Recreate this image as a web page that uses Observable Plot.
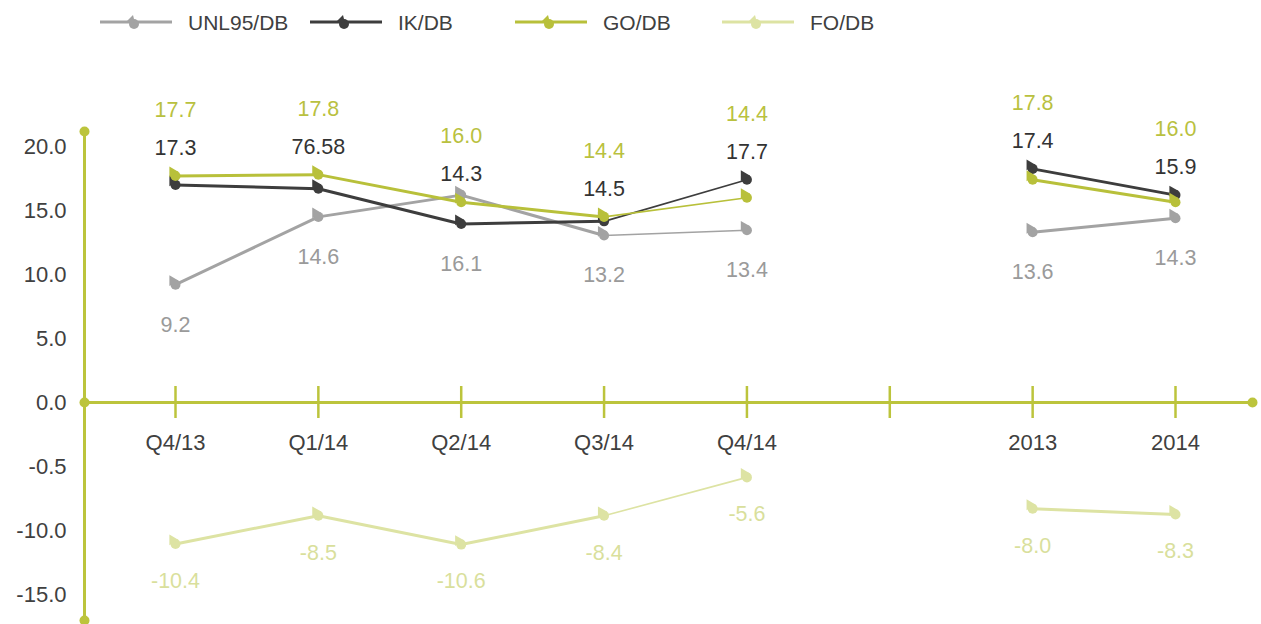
<!DOCTYPE html>
<html>
<head>
<meta charset="utf-8">
<script src="https://cdn.jsdelivr.net/npm/d3@7"></script>
<script src="https://cdn.jsdelivr.net/npm/@observablehq/plot@0.6"></script>
<style>
  html, body { margin: 0; padding: 0; background: #fff; }
  body { width: 1261px; height: 624px; overflow: hidden; font-family: "Liberation Sans", Arial, sans-serif; }
  #legend { position: relative; height: 48px; width: 1261px; }
  .item { position: absolute; top: 0; height: 46px; display: flex; align-items: center; }
  .item span { font-size: 21px; color: #404040; margin-left: 16px; }
  #chart svg { display: block; }
</style>
</head>
<body>
<div id="legend"></div>
<div id="chart"></div>
<script>
// ---- data ----
const categories = ["Q4/13", "Q1/14", "Q2/14", "Q3/14", "Q4/14", "", "2013", "2014"];
const seriesNames = ["UNL95/DB", "IK/DB", "GO/DB", "FO/DB"];
const unl95 = [9.2, 14.5, 16.2, 13.05, 13.45, null, 13.3, 14.4];
const ik    = [17.0, 16.7, 13.95, 14.15, 17.4, null, 18.25, 16.2];
const go    = [17.7, 17.8, 15.65, 14.5, 16.0, null, 17.4, 15.65];
const fo    = [-11.05, -8.85, -11.1, -8.85, -5.85, null, -8.3, -8.75];
const unl95Labels = ["9.2", "14.6", "16.1", "13.2", "13.4", "", "13.6", "14.3"];
const ikLabels    = ["17.3", "76.58", "14.3", "14.5", "17.7", "", "17.4", "15.9"];
const goLabels    = ["17.7", "17.8", "16.0", "14.4", "14.4", "", "17.8", "16.0"];
const foLabels    = ["-10.4", "-8.5", "-10.6", "-8.4", "-5.6", "", "-8.0", "-8.3"];
const yTicks = [20, 15, 10, 5, 0, -5, -10, -15];
const yTickLabels = ["20.0", "15.0", "10.0", "5.0", "0.0", "-0.5", "-10.0", "-15.0"];

// ---- styles ----
const axisColor = "#bcc43c";
const style = {
  "UNL95/DB": {color: "#a3a3a3", text: "#9a9a9a"},
  "IK/DB":    {color: "#3d3d3d", text: "#333333"},
  "GO/DB":    {color: "#b8c03a", text: "#b9c13f"},
  "FO/DB":    {color: "#dde3a3", text: "#d9df9c"}
};
const valuesBySeries = {"UNL95/DB": unl95, "IK/DB": ik, "GO/DB": go, "FO/DB": fo};
const labelsBySeries = {"UNL95/DB": unl95Labels, "IK/DB": ikLabels, "GO/DB": goLabels, "FO/DB": foLabels};

// label anchors: the upper labels sit above the highest of IK/GO, the grey one below the lowest of the top group
const labelAnchor = {
  "IK/DB":    {y: i => Math.max(ik[i], go[i]), dy: -28},
  "GO/DB":    {y: i => Math.max(ik[i], go[i]), dy: -66},
  "UNL95/DB": {y: i => Math.min(unl95[i], ik[i], go[i]), dy: 40},
  "FO/DB":    {y: i => fo[i], dy: 37}
};

const points = [];
const segments = [];
for (const s of seriesNames) {
  const v = valuesBySeries[s], lab = labelsBySeries[s];
  v.forEach((y, i) => { if (y != null) points.push({s, i, y, label: lab[i], ly: labelAnchor[s].y(i)}); });
  for (let i = 0; i < v.length - 1; i++) {
    if (v[i] != null && v[i + 1] != null) segments.push({s, x1: i, y1: v[i], x2: i + 1, y2: v[i + 1], w: i === 3 ? 1.6 : 3});
  }
}
const drawOrder = ["FO/DB", "UNL95/DB", "IK/DB", "GO/DB"];

const xDomain = [-0.637, 7.539];
const yDomain = [-17.03, 21.17];

const marks = [
  Plot.ruleY([0], {stroke: axisColor, strokeWidth: 3}),
  Plot.ruleX([xDomain[0]], {stroke: axisColor, strokeWidth: 3}),
  Plot.ruleX(categories.map((c, i) => i), {x: d => d, y1: -1.25, y2: 1.25, stroke: axisColor, strokeWidth: 2.5}),
  Plot.dot([[xDomain[0], yDomain[1]], [xDomain[0], yDomain[0]], [xDomain[0], 0], [xDomain[1], 0]],
    {x: d => d[0], y: d => d[1], r: 5, fill: axisColor}),
  Plot.text(categories.map((c, i) => ({c, i})), {x: "i", y: () => 0, text: "c", dy: 40, fontSize: 22, fill: "#404040"})
];
for (const s of drawOrder) {
  const st = style[s];
  const seg = segments.filter(d => d.s === s);
  const pts = points.filter(d => d.s === s);
  marks.push(Plot.link(seg, {x1: "x1", y1: "y1", x2: "x2", y2: "y2", stroke: st.color, strokeWidth: "w", strokeLinecap: "round"}));
  marks.push(Plot.dot(pts, {x: "i", y: "y", r: 5, fill: st.color}));
  marks.push(Plot.dot(pts, {x: "i", y: "y", symbol: "triangle", r: 4, fill: st.color, dx: -3, dy: -4, rotate: -30}));
}
for (const s of seriesNames) {
  const st = style[s];
  marks.push(Plot.text(points.filter(d => d.s === s), {x: "i", y: "ly", text: "label", dy: labelAnchor[s].dy, fontSize: 21.5, fill: st.text}));
}

const chart = Plot.plot({
  width: 1261,
  height: 576,
  marginLeft: 84,
  marginRight: 9,
  marginTop: 83,
  marginBottom: 4,
  style: {fontFamily: "'Liberation Sans', Arial, sans-serif", background: "transparent"},
  x: {type: "linear", domain: xDomain, axis: null},
  y: {type: "linear", domain: yDomain},
  marks: [
    Plot.axisY({ticks: yTicks, tickSize: 0, tickPadding: 18, fontSize: 22, fill: "#404040",
      tickFormat: d => yTickLabels[yTicks.indexOf(d)]}),
    ...marks
  ]
});
document.getElementById("chart").appendChild(chart);

// ---- legend ----
const legendX = [100, 310, 515, 722];
const legend = document.getElementById("legend");
seriesNames.forEach((s, k) => {
  const div = document.createElement("div");
  div.className = "item";
  div.style.left = legendX[k] + "px";
  const c = style[s].color;
  div.innerHTML = `<svg width="72" height="20"><line x1="0" y1="9" x2="72" y2="9" stroke="${c}" stroke-width="3"/>` +
    `<circle cx="34" cy="11" r="5" fill="${c}"/><path d="M27 8 L33 2 L35 10 Z" fill="${c}"/></svg><span>${s}</span>`;
  legend.appendChild(div);
});
</script>
</body>
</html>
